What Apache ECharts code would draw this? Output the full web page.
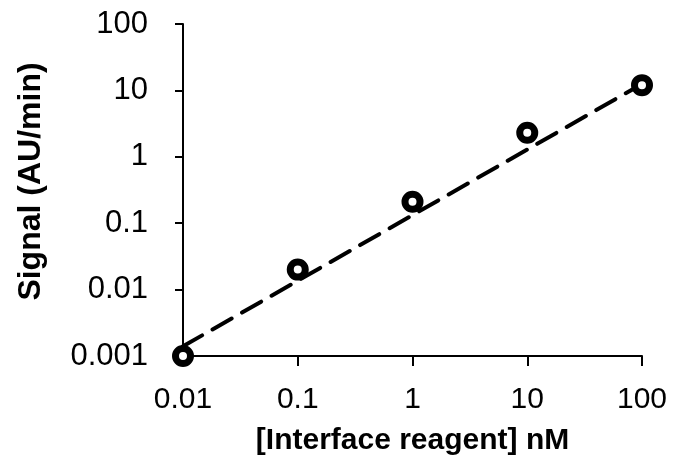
<!DOCTYPE html>
<html>
<head>
<meta charset="utf-8">
<script src="https://cdn.jsdelivr.net/npm/echarts@6/dist/echarts.min.js"></script>
<style>
  html, body { margin: 0; padding: 0; background: #fff; }
  #chart { width: 673px; height: 463px; }
</style>
</head>
<body>
<div id="chart"></div>
<script>
// measured points
const concentration = [0.01, 0.1, 1, 10, 100];
const signal = [0.001, 0.02, 0.21, 2.3, 12];

// power trend line end points
const trendX = [0.01, 100];
const trendY = [0.0014, 12.5];

const xTickLabels = ['0.01', '0.1', '1', '10', '100'];
const yTickLabels = ['0.001', '0.01', '0.1', '1', '10', '100'];

const fontFamily = 'Liberation Sans, Arial, sans-serif';

// log axis labels come back as floats, pick the text by decade
const labelFor = (labels, min) => (value) => {
  const idx = Math.round(Math.log10(value) - Math.log10(min));
  return labels[idx] !== undefined ? labels[idx] : '';
};

const chart = echarts.init(document.getElementById('chart'));
const option = {
  animation: false,
  grid: { left: 183, right: 31, top: 24, bottom: 107 },
  xAxis: {
    type: 'log',
    logBase: 10,
    min: 0.01,
    max: 100,
    name: '[Interface reagent] nM',
    nameLocation: 'middle',
    nameGap: 70,
    nameTextStyle: { fontFamily, fontSize: 30, fontWeight: 'bold', color: '#000' },
    axisLine: { lineStyle: { color: '#000', width: 2 } },
    axisTick: { length: 10, lineStyle: { color: '#000', width: 2 } },
    minorTick: { show: false },
    splitLine: { show: false },
    axisLabel: {
      fontFamily, fontSize: 30, color: '#000', margin: 29,
      formatter: labelFor(xTickLabels, 0.01),
    },
  },
  yAxis: {
    type: 'log',
    logBase: 10,
    min: 0.001,
    max: 100,
    name: 'Signal (AU/min)',
    nameLocation: 'middle',
    nameGap: 136,
    nameTextStyle: {
      fontFamily, fontSize: 32, fontWeight: 'bold', color: '#000',
      padding: [0, 0, 0, 17],
    },
    axisLine: { show: true, lineStyle: { color: '#000', width: 2 } },
    axisTick: { show: true, length: 8, lineStyle: { color: '#000', width: 2 } },
    splitLine: { show: false },
    axisLabel: {
      fontFamily, fontSize: 31, color: '#000', margin: 35,
      formatter: labelFor(yTickLabels, 0.001),
    },
  },
  series: [
    {
      type: 'line',
      data: trendX.map((x, i) => [x, trendY[i]]),
      symbol: 'none',
      lineStyle: { color: '#000', width: 4, type: [22, 12], cap: 'round' },
      z: 2,
    },
    {
      type: 'scatter',
      data: concentration.map((x, i) => [x, signal[i]]),
      symbol: 'circle',
      symbolSize: 15,
      itemStyle: { color: '#fff', borderColor: '#000', borderWidth: 7, opacity: 1 },
      z: 3,
    },
  ],
};
chart.setOption(option);
</script>
</body>
</html>
